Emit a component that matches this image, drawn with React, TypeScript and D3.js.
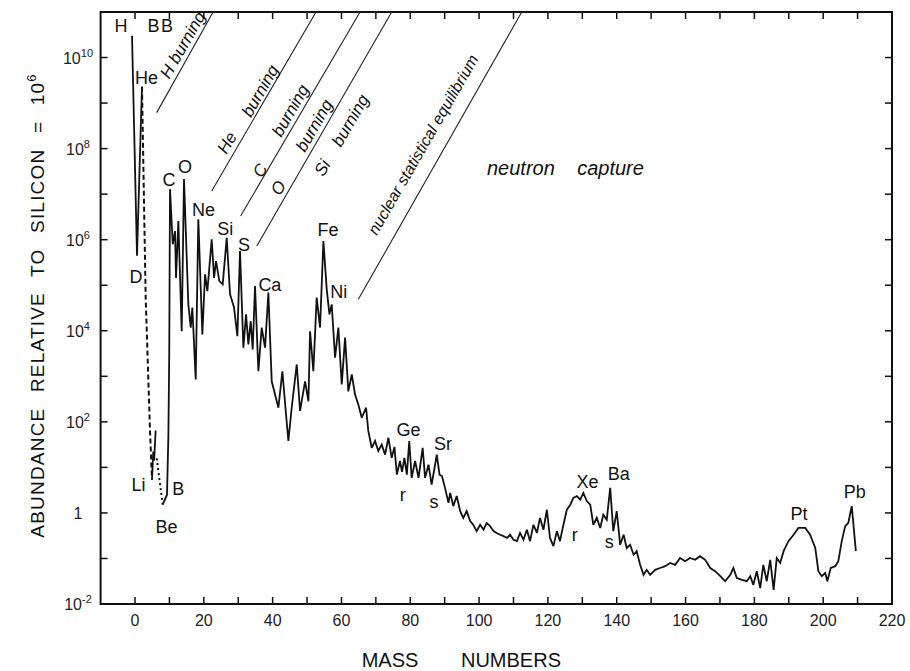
import React from 'react'
import * as d3 from 'd3'

const W = 910, H = 671
const FONT = '"Liberation Sans", Arial, sans-serif'

// [mass number, log10 abundance] with Si = 10^6
const hydrogenHelium: [number, number][] = [[-0.87, 10.48], [0.58, 5.65], [2.03, 9.36]]
const heliumToLithium: [number, number][] = [[2.03, 9.36], [3.1, 4.73], [4.36, 1.8], [4.94, 0.73]]
const lithium: [number, number][] = [[4.94, 0.73], [5.3, 1.35], [5.55, 1.15], [6.0, 1.81]]
const lithiumToBeryllium: [number, number][] = [[6.3, 1.2], [8.05, 0.18]]

const mainCurve: [number, number][] = [
  [8.05, 0.18], [9.3, 0.4], [9.7, 1.7], [9.95, 3.5], [10.17, 7.11], [10.96, 5.9], [11.63, 6.19],
  [11.92, 5.16], [12.6, 6.41], [13.57, 3.99], [14.24, 7.33], [15.5, 4.58], [16.19, 4.07],
  [16.66, 4.51], [17.64, 2.93], [18.4, 6.45], [19.57, 3.92], [20.35, 5.24], [21.03, 4.87],
  [22.29, 6.01], [22.97, 5.16], [23.55, 5.53], [24.52, 5.09], [25.49, 5.02], [26.65, 6.04],
  [27.62, 4.8], [28.78, 4.51], [29.75, 3.88], [30.52, 5.75], [31.49, 3.63], [32.27, 4.36],
  [32.95, 3.7], [33.62, 4.21], [34.2, 3.59], [34.88, 4.98], [35.85, 3.11], [36.82, 4.07],
  [37.79, 3.63], [38.76, 4.84], [39.73, 2.89], [40.7, 2.6], [41.67, 2.31], [42.83, 3.11],
  [43.8, 2.24], [44.57, 1.58], [45.54, 2.31], [47.0, 3.26], [47.97, 2.24], [49.42, 2.89],
  [50.4, 2.45], [50.87, 3.99], [51.83, 3.11], [52.8, 4.73], [53.78, 4.07], [54.75, 5.97],
  [55.72, 4.91], [56.5, 4.36], [57.17, 4.58], [58.14, 3.41], [59.1, 4.07], [60.08, 2.82],
  [61.05, 3.85], [62.0, 2.67], [63.0, 3.04], [63.95, 2.6], [64.9, 2.38], [65.9, 2.09],
  [67.15, 2.31], [67.8, 1.8], [68.8, 1.43], [69.77, 1.58], [70.7, 1.36], [71.7, 1.5],
  [72.67, 1.28], [73.64, 1.65], [74.6, 1.21], [75.4, 1.45], [76.1, 0.84], [77.0, 1.14],
  [77.6, 0.9], [78.3, 1.21], [79.0, 0.84], [79.7, 1.58], [80.4, 0.77], [81.4, 1.14],
  [82.4, 0.77], [83.6, 1.43], [84.3, 0.77], [85.3, 1.06], [86.2, 0.62], [86.9, 0.92],
  [87.7, 1.28], [88.5, 0.84], [89.2, 0.81], [90.1, 0.55], [91.1, 0.22], [91.6, 0.44],
  [92.5, 0.15], [93.5, 0.37], [94.5, 0.04], [95.4, -0.11], [96.4, 0.04], [97.4, -0.18],
  [98.3, -0.26], [99.3, -0.4], [100.3, -0.26], [101.3, -0.37], [102.2, -0.22], [103.2, -0.29],
  [104.2, -0.4], [105.1, -0.44], [106.1, -0.48], [107.1, -0.51], [108.1, -0.55], [109.0, -0.48],
  [110.0, -0.59], [111.0, -0.62], [111.9, -0.44], [112.9, -0.59], [113.9, -0.37], [114.8, -0.62],
  [115.8, -0.26], [116.8, -0.44], [117.7, -0.11], [118.7, -0.37], [119.7, 0.07], [120.6, -0.55],
  [121.6, -0.73], [122.6, -0.4], [123.5, -0.62], [124.5, -0.26], [125.5, 0.07], [126.5, 0.18],
  [127.4, 0.33], [128.4, 0.37], [129.4, 0.29], [130.3, 0.44], [131.3, 0.26], [132.3, 0.18],
  [133.2, -0.26], [134.2, -0.11], [135.2, -0.33], [136.1, -0.04], [137.1, -0.15], [138.1, 0.55],
  [139.0, -0.4], [140.0, 0.04], [141.0, -0.7], [142.0, -0.48], [142.9, -0.77], [143.9, -0.7],
  [144.9, -0.92], [145.8, -0.84], [146.8, -1.14], [147.8, -1.36], [148.7, -1.25], [149.7, -1.36],
  [151.2, -1.25], [152.6, -1.21], [154.1, -1.17], [155.5, -1.1], [157.0, -1.14], [158.4, -0.99],
  [159.9, -1.06], [161.3, -0.99], [162.8, -1.03], [164.2, -0.95], [165.7, -1.03], [167.2, -1.21],
  [168.6, -1.28], [170.1, -1.39], [171.5, -1.5], [173.0, -1.36], [173.9, -1.21], [174.9, -1.43],
  [176.4, -1.47], [177.8, -1.5], [178.8, -1.39], [179.7, -1.58], [180.7, -1.28], [181.7, -1.65],
  [182.6, -1.14], [183.6, -1.5], [184.6, -1.03], [185.6, -1.69], [186.5, -0.99], [187.5, -1.1],
  [188.5, -0.84], [189.9, -0.62], [191.4, -0.48], [192.8, -0.33], [194.8, -0.33], [196.2, -0.48],
  [197.7, -0.77], [198.6, -1.28], [199.6, -1.39], [200.6, -1.32], [201.2, -1.5], [202.2, -1.21],
  [203.5, -1.17], [204.4, -1.06], [205.4, -0.62], [206.4, -0.29], [207.3, -0.22], [208.3, 0.15],
  [209.5, -0.84],
]

// burning-region boundaries: [mass, log] start and end
const burningLines: [number, number, number, number][] = [
  [6.3, 8.79, 22.7, 11],
  [22.3, 7.07, 52.6, 11],
  [30.7, 6.52, 65.4, 11],
  [35.4, 5.86, 74.6, 11],
  [64.9, 4.69, 112.4, 11],
]

// rotated process labels: text, mass, log (centre)
const processLabels: [string, number, number][] = [
  ['H burning', 13.8, 10.28],
  ['He', 26.7, 8.13], ['burning', 36.3, 9.27],
  ['C', 36.3, 7.52], ['burning', 45.1, 8.84],
  ['O', 41.6, 7.14], ['burning', 52.0, 8.51],
  ['Si', 54.4, 7.58], ['burning', 62.5, 8.62],
  ['nuclear statistical equilibrium', 83.7, 8.09],
]

// element labels: text, mass (centre), log (baseline)
const elementLabels: [string, number, number][] = [
  ['H', -4.07, 10.57], ['BB', 7.56, 10.57], ['He', 3.34, 9.41], ['D', 0.29, 5.05],
  ['C', 9.88, 7.19], ['O', 14.5, 7.47], ['Ne', 19.9, 6.53], ['Si', 26.2, 6.11],
  ['S', 31.7, 5.76], ['Ca', 39.2, 4.88], ['Fe', 56.1, 6.09], ['Ni', 59.2, 4.73],
  ['Li', 1.02, 0.48], ['B', 12.6, 0.4], ['Be', 9.16, -0.44], ['Ge', 79.5, 1.69],
  ['Sr', 89.5, 1.38], ['r', 77.8, 0.26], ['s', 86.9, 0.11], ['Xe', 131.5, 0.55],
  ['Ba', 140.6, 0.73], ['r', 127.8, -0.62], ['s', 137.8, -0.77], ['Pt', 193.0, -0.15],
  ['Pb', 209.2, 0.33],
]

const xTicks = d3.range(-10, 221, 10)
const xTickLabels = d3.range(0, 221, 20)
const yDecades = d3.range(-2, 12, 1)
const yTickLabels = [-2, 0, 2, 4, 6, 8, 10]

export default function App() {
  const x = d3.scaleLinear().domain([-10, 220]).range([100.6, 892])
  const y = d3.scaleLog().domain([1e-2, 1e11]).range([604, 12])
  const line = d3.line<[number, number]>().x(d => x(d[0])).y(d => y(Math.pow(10, d[1])))
  const [x0, x1] = x.range()
  const [y0, y1] = y.range()
  const tick = 7

  return (
    <svg width={W} height={H} style={{ position: 'absolute', left: 0, top: 0, background: '#fff' }}
      fontFamily={FONT}>
      <rect x={0} y={0} width={W} height={H} fill="#fff" />
      {/* frame */}
      <rect x={x0} y={y1} width={x1 - x0} height={y0 - y1} fill="none" stroke="#111" strokeWidth={2} />
      {xTicks.filter(v => v > -10 && v < 220).map(v => (
        <g key={'xt' + v} stroke="#111" strokeWidth={1.5}>
          <line x1={x(v)} x2={x(v)} y1={y0} y2={y0 - tick} />
          <line x1={x(v)} x2={x(v)} y1={y1} y2={y1 + tick} />
        </g>
      ))}
      {yDecades.filter(e => e > -2 && e < 11).map(e => (
        <g key={'yt' + e} stroke="#111" strokeWidth={1.5}>
          <line x1={x0} x2={x0 + tick} y1={y(Math.pow(10, e))} y2={y(Math.pow(10, e))} />
          <line x1={x1} x2={x1 - tick} y1={y(Math.pow(10, e))} y2={y(Math.pow(10, e))} />
        </g>
      ))}
      {xTickLabels.map(v => (
        <text key={'xl' + v} x={x(v)} y={626} textAnchor="middle" fontSize={16} fill="#222">{v}</text>
      ))}
      {yTickLabels.map(e => (
        <text key={'yl' + e} x={78} y={y(Math.pow(10, e)) + 6} textAnchor="middle" fontSize={16} fill="#222">
          {e === 0 ? '1' : <>10<tspan fontSize={11} dy={-7}>{e}</tspan></>}
        </text>
      ))}
      {/* axis titles */}
      <text x={390} y={667} textAnchor="middle" fontSize={20} fill="#111">MASS</text>
      <text x={511} y={667} textAnchor="middle" fontSize={20} fill="#111">NUMBERS</text>
      <text transform={`translate(44,${(78 + 533) / 2}) rotate(-90)`} textAnchor="middle" fontSize={19}
        fill="#111" letterSpacing={1.2} wordSpacing={9}>
        ABUNDANCE RELATIVE TO SILICON = 10<tspan fontSize={13} dy={-8}>6</tspan>
      </text>

      {/* burning lines */}
      {burningLines.map((d, i) => (
        <line key={'bl' + i} x1={x(d[0])} y1={y(Math.pow(10, d[1]))} x2={x(d[2])} y2={y(Math.pow(10, d[3]))}
          stroke="#222" strokeWidth={1.1} />
      ))}
      {processLabels.map((d, i) => (
        <text key={'pl' + i} transform={`translate(${x(d[1])},${y(Math.pow(10, d[2]))}) rotate(-60)`}
          textAnchor="middle" dy="0.35em" fontSize={i === processLabels.length - 1 ? 16 : 17}
          fontStyle="italic" fill="#111">{d[0]}</text>
      ))}
      <text x={x(102.3)} y={y(Math.pow(10, 7.43))} fontSize={20} fontStyle="italic" fill="#111">neutron</text>
      <text x={x(128.5)} y={y(Math.pow(10, 7.43))} fontSize={20} fontStyle="italic" fill="#111">capture</text>

      {/* abundance curve */}
      <g fill="none" stroke="#111" strokeLinejoin="miter" strokeMiterlimit={3}>
        <path d={line(hydrogenHelium) || ''} strokeWidth={1.8} />
        <path d={line(heliumToLithium) || ''} strokeWidth={2} strokeDasharray="5 3" />
        <path d={line(lithium) || ''} strokeWidth={1.8} />
        <path d={line(lithiumToBeryllium) || ''} strokeWidth={2} strokeDasharray="2 3" />
        <path d={line(mainCurve) || ''} strokeWidth={1.8} />
      </g>

      {elementLabels.map((d, i) => (
        <text key={'el' + i} x={x(d[1])} y={y(Math.pow(10, d[2]))} textAnchor="middle" fontSize={18}
          fill="#111" letterSpacing={d[0] === 'BB' ? 1.5 : 0}>{d[0]}</text>
      ))}
    </svg>
  )
}
